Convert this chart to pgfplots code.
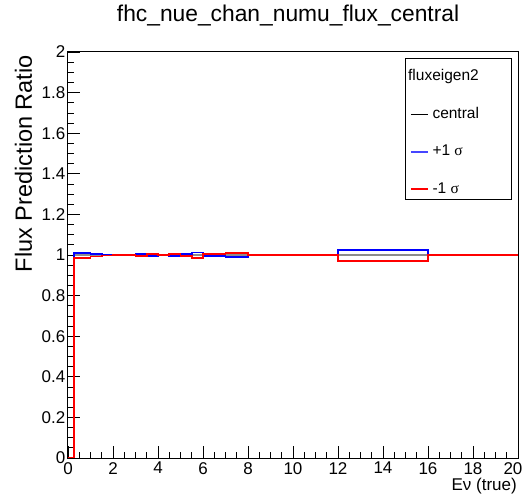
\documentclass[border=0pt]{standalone}
\usepackage{fontspec}
\setmainfont{Liberation Sans}
\newfontfamily\serifgr{Liberation Serif}
\usepackage{pgfplots}
\pgfplotsset{compat=1.18}
\usepackage{pgfplotstable}

% bin left edges and ratio values (last row closes the final bin at 20)
\pgfplotstableread{
x     central plus   minus
0     0       0      0
0.25  1       1.010  0.985
1.0   1       1.004  0.993
1.5   1       1.002  0.998
2.0   1       1.001  0.999
2.5   1       1.002  0.999
3.0   1       1.004  0.997
3.5   1       0.997  1.004
4.0   1       1.001  1.000
4.5   1       0.997  1.004
5.0   1       1.004  0.997
5.5   1       1.012  0.985
6.0   1       0.996  1.006
7.0   1       0.992  1.008
8.0   1       1.000  1.000
12.0  1       1.025  0.970
16.0  1       1.000  1.000
20.0  1       1.000  1.000
}\hist

\definecolor{rootblue}{RGB}{0,0,255}
\definecolor{rootred}{RGB}{255,0,0}
\definecolor{legblue}{RGB}{70,70,255}

\begin{document}
\begin{tikzpicture}
\path[use as bounding box] (-68bp,-38bp) rectangle (457bp,458bp);
\begin{axis}[
  at={(0,0)}, anchor=south west,
  scale only axis, width=450bp, height=406bp,
  xmin=0, xmax=20, ymin=0, ymax=2,
  xtick={0,2,4,6,8,10,12,14,16,18,20},
  xticklabels={0,2,4,6,8,10,12,14,16,18,\hspace{-10bp}20},
  ytick={0,0.2,0.4,0.6,0.8,1,1.2,1.4,1.6,1.8,2},
  minor x tick num=3, minor y tick num=3,
  tick pos=left, tick align=inside,
  major tick length=12bp, minor tick length=6bp,
  every tick/.style={black, line width=0.7bp},
  axis line style={line width=1bp},
  /pgf/number format/assume math mode=true,
  tick label style={font=\fontsize{17bp}{20bp}\selectfont, inner sep=0pt},
  xticklabel style={yshift=-4bp},
  yticklabel style={xshift=-2.5bp},
  title={fhc\_nue\_chan\_numu\_flux\_central},
  title style={at={(axis description cs:0.489,1)}, anchor=base, yshift=25bp, inner sep=0pt, font=\fontsize{22.8bp}{26bp}\selectfont},
  ylabel={Flux Prediction Ratio},
  ylabel style={at={(axis description cs:-0.08,0.9926)}, anchor=base east, inner sep=0pt, font=\fontsize{23.5bp}{27bp}\selectfont},
  xlabel={Eν (true)},
  xlabel style={at={(rel axis cs:1,0)}, anchor=base east, xshift=-1bp, yshift=-32bp, inner sep=0pt, font=\fontsize{17bp}{20bp}\selectfont},
  legend image code/.code={\draw[#1] (0bp,0bp) -- (17bp,0bp);},
  legend style={at={(axis cs:15.2,1.7266)}, anchor=north west, draw=none, fill=none,
    inner sep=0pt, outer sep=0pt, row sep=23.3bp, column sep=4bp,
    nodes={inner sep=0pt, text height=11bp, text depth=3bp},
    font=\fontsize{15.5bp}{18bp}\selectfont},
  legend cell align=left,
]
\addplot[const plot, draw=black!45, line width=2.5bp, restrict x to domain=0.2:20, forget plot] table[x=x, y=central] {\hist};
\addplot[const plot, draw=rootblue, line width=1.8bp, forget plot] table[x=x, y=plus] {\hist};
\addplot[const plot, draw=rootred, line width=1.8bp, forget plot] table[x=x, y=minus] {\hist};
\addlegendimage{draw=black, line width=1.2bp}
\addlegendentry{central}
\addlegendimage{draw=legblue, line width=1.5bp}
\addlegendentry{+1 {\serifgr σ}}
\addlegendimage{draw=rootred, line width=1.5bp}
\addlegendentry{-1 {\serifgr σ}}
\draw[line width=1bp] (axis cs:15.02,1.970) rectangle (axis cs:19.73,1.271);
\node[anchor=base west, inner sep=0pt, font=\fontsize{15.5bp}{18bp}\selectfont] at (axis cs:15.11,1.862) {fluxeigen2};
\end{axis}
\end{tikzpicture}
\end{document}
